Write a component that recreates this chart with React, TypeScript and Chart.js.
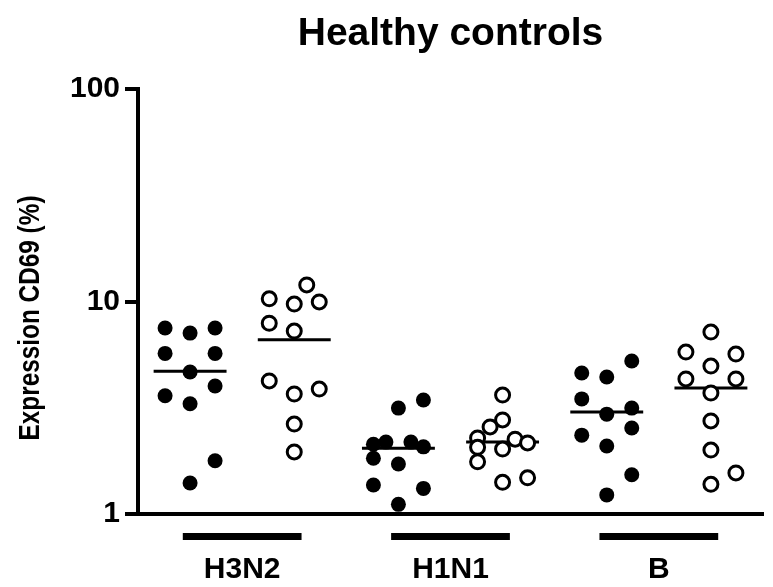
import React, { useEffect, useRef } from 'react';
import { Chart, registerables } from 'chart.js';

Chart.register(...registerables);

const titleText = 'Healthy controls';
const yAxisTitle = 'Expression CD69 (%)';
const groupLabels = ['H3N2', 'H1N1', 'B'];
const yTickValues = [1, 10, 100];

// filled circles (first condition) per virus
const h3n2Filled = [7.5, 7.1, 7.5, 5.7, 5.7, 4.66, 4.0, 3.6, 3.3, 1.78, 1.4];
const h3n2FilledCol = [-1, 0, 1, -1, 1, 0, 1, -1, 0, 1, 0];
const h1n1Filled = [3.15, 3.44, 2.13, 2.18, 2.18, 2.07, 1.83, 1.72, 1.37, 1.32, 1.11];
const h1n1FilledCol = [0, 1, -1, -0.5, 0.5, 1, -1, 0, -1, 1, 0];
const bFilled = [4.61, 4.41, 5.25, 3.48, 2.95, 3.15, 2.35, 2.54, 2.09, 1.53, 1.23];
const bFilledCol = [-1, 0, 1, -1, 0, 1, -1, 1, 0, 1, 0];

// open circles (second condition) per virus
const h3n2Open = [11.96, 10.3, 9.73, 9.95, 7.9, 7.26, 4.23, 3.67, 3.87, 2.65, 1.96];
const h3n2OpenCol = [0.5, -1, 0, 1, -1, 0, -1, 0, 1, 0, 0];
const h1n1Open = [3.63, 2.77, 2.57, 2.28, 2.06, 1.76, 2.25, 2.02, 2.16, 1.41, 1.48];
const h1n1OpenCol = [0, 0, -0.5, -1, -1, -1, 0.5, 0, 1, 0, 1];
const bOpen = [7.18, 5.78, 5.66, 4.97, 4.32, 4.32, 3.71, 2.74, 2.0, 1.38, 1.56];
const bOpenCol = [0, -1, 1, 0, -1, 1, 0, 0, 0, 0, 1];

// mean lines, one per column (H3N2 filled, H3N2 open, H1N1 filled, ...)
const meanValues = [4.7, 6.6, 2.04, 2.18, 3.02, 3.92];

const JITTER = 0.24;
const MEAN_HALF = 0.35;
const BAR_HALF = 0.57;
const FONT = '"Liberation Sans", Arial, Helvetica, sans-serif';

function buildPoints(series: number[][], cols: number[][], offset: number) {
  const pts: { x: number; y: number }[] = [];
  series.forEach((vals, g) => {
    const column = 2 * g + 1 + offset;
    vals.forEach((v, i) => pts.push({ x: column + cols[g][i] * JITTER, y: v }));
  });
  return pts;
}

function buildMeans() {
  const pts: { x: number; y: number | null }[] = [];
  meanValues.forEach((m, i) => {
    const c = i + 1;
    pts.push({ x: c - MEAN_HALF, y: m });
    pts.push({ x: c + MEAN_HALF, y: m });
    pts.push({ x: c + MEAN_HALF, y: null });
  });
  return pts;
}

const decorPlugin = {
  id: 'decor',
  afterDraw(chart: any) {
    const { ctx, chartArea, scales } = chart;
    const xs = scales.x;
    ctx.save();
    ctx.fillStyle = '#000';
    ctx.textAlign = 'center';
    ctx.textBaseline = 'alphabetic';
    ctx.font = `bold 39px ${FONT}`;
    ctx.fillText(titleText, (chartArea.left + chartArea.right) / 2, 45);

    // rotated y-axis title
    ctx.save();
    ctx.translate(31, 318);
    ctx.rotate(-Math.PI / 2);
    ctx.font = `bold 30px ${FONT}`;
    const w = ctx.measureText(yAxisTitle).width;
    ctx.scale(245 / w, 1);
    ctx.textBaseline = 'middle';
    ctx.fillText(yAxisTitle, 0, 0);
    ctx.restore();

    groupLabels.forEach((lab, g) => {
      const c = 2 * g + 1.5;
      const x1 = xs.getPixelForValue(c - BAR_HALF);
      const x2 = xs.getPixelForValue(c + BAR_HALF);
      ctx.fillRect(x1, chartArea.bottom + 19, x2 - x1, 7);
      ctx.font = `bold 30px ${FONT}`;
      ctx.textBaseline = 'middle';
      ctx.fillText(lab, xs.getPixelForValue(c), chartArea.bottom + 56);
    });
    ctx.restore();
  },
};

export default function App() {
  const ref = useRef<HTMLCanvasElement>(null);
  useEffect(() => {
    const chart = new Chart(ref.current as HTMLCanvasElement, {
      type: 'scatter',
      data: {
        datasets: [
          {
            label: 'open',
            data: buildPoints([h3n2Open, h1n1Open, bOpen], [h3n2OpenCol, h1n1OpenCol, bOpenCol], 1),
            backgroundColor: '#fff',
            borderColor: '#000',
            borderWidth: 3,
            pointRadius: 7,
            order: 1,
          },
          {
            label: 'filled',
            data: buildPoints([h3n2Filled, h1n1Filled, bFilled], [h3n2FilledCol, h1n1FilledCol, bFilledCol], 0),
            backgroundColor: '#000',
            borderColor: '#000',
            borderWidth: 0,
            pointRadius: 7.5,
            order: 2,
          },
          {
            label: 'mean',
            type: 'line',
            data: buildMeans() as any,
            borderColor: '#000',
            borderWidth: 3,
            pointRadius: 0,
            spanGaps: false,
            showLine: true,
            order: 3,
          } as any,
        ],
      },
      options: {
        animation: false,
        responsive: false,
        events: [],
        layout: { padding: { top: 89, bottom: 73, left: 0, right: 0 } },
        plugins: { legend: { display: false }, tooltip: { enabled: false } },
        scales: {
          x: {
            type: 'linear',
            min: 0.5,
            max: 6.5,
            ticks: { display: false },
            grid: { display: false, drawTicks: false },
            border: { display: true, color: '#000', width: 4 },
            afterFit: (s: any) => { s.height = 0; },
          },
          y: {
            type: 'logarithmic',
            min: 1,
            max: 100,
            afterBuildTicks: (s: any) => { s.ticks = yTickValues.map((v) => ({ value: v })); },
            ticks: {
              callback: (v: any) => String(v),
              color: '#000',
              padding: 5,
              font: { family: FONT, weight: 'bold', size: 30 },
            },
            grid: { drawOnChartArea: false, color: '#000', lineWidth: 4, tickLength: 13 },
            border: { display: true, color: '#000', width: 4 },
            afterFit: (s: any) => { s.width = 138; },
          },
        },
      },
      plugins: [decorPlugin],
    } as any);
    return () => chart.destroy();
  }, []);
  return (
    <div style={{ position: 'absolute', left: 0, top: 0, width: 773, height: 587, background: '#fff' }}>
      <canvas ref={ref} width={773} height={587} style={{ display: 'block' }} />
    </div>
  );
}
